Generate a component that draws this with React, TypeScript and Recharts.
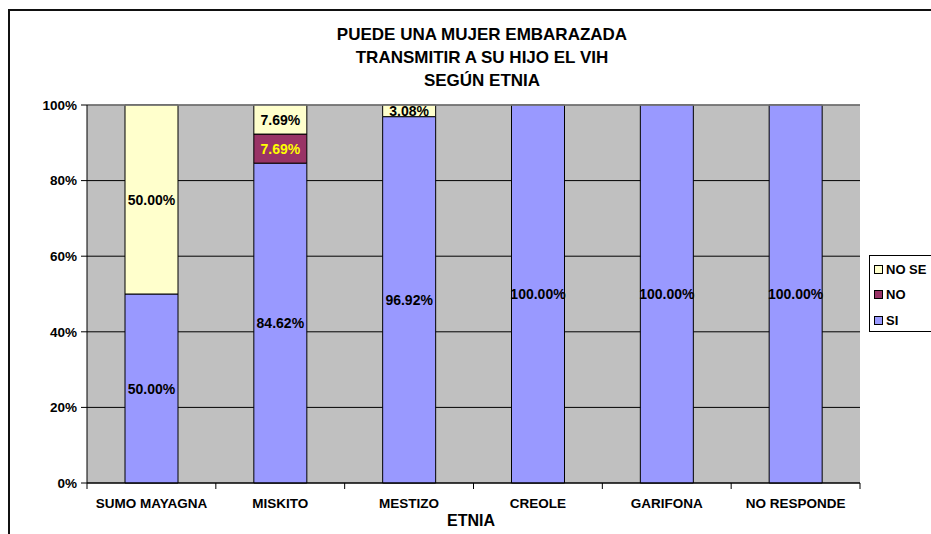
import { BarChart, Bar, XAxis, YAxis, CartesianGrid, LabelList, ReferenceLine } from "recharts";

const categories = ["SUMO MAYAGNA", "MISKITO", "MESTIZO", "CREOLE", "GARIFONA", "NO RESPONDE"];
const siValues = [50, 84.62, 96.92, 100, 100, 100];
const noValues = [0, 7.69, 0, 0, 0, 0];
const noSeValues = [50, 7.69, 3.08, 0, 0, 0];
const yTicks = [0, 20, 40, 60, 80, 100];

const FONT = "'Liberation Sans', Arial, sans-serif";
const W = 931;
const H = 534;
const M_LEFT = 27;
const Y_W = 60;
const M_RIGHT = 71;
const M_TOP = 105;
const X_H = 30;
const M_BOTTOM = 21;
const BAND = (W - M_LEFT - Y_W - M_RIGHT) / categories.length;

const data = categories.map((name, i) => ({
  name,
  si: siValues[i],
  no: noValues[i],
  noSe: noSeValues[i],
}));

// segment labels, hidden when the value is zero
const makeLabel = (color: string) => (props: any) => {
  const { x, y, width, height, value } = props;
  if (!value) return null;
  return (
    <text
      x={x + width / 2}
      y={y + height / 2}
      textAnchor="middle"
      dominantBaseline="central"
      fontFamily={FONT}
      fontWeight="bold"
      fontSize={14}
      fill={color}
    >
      {Number(value).toFixed(2)}%
    </text>
  );
};

// category label plus tick marks between categories (Excel style)
const CategoryTick = (props: any) => {
  const { x, y, payload, index } = props;
  const left = x - BAND / 2;
  return (
    <g>
      <line x1={left} y1={y} x2={left} y2={y + 6} stroke="#000" />
      {index === categories.length - 1 && (
        <line x1={x + BAND / 2} y1={y} x2={x + BAND / 2} y2={y + 6} stroke="#000" />
      )}
      <text
        x={x}
        y={y + 20}
        textAnchor="middle"
        dominantBaseline="central"
        fontFamily={FONT}
        fontWeight="bold"
        fontSize={13.5}
        fill="#000"
      >
        {payload.value}
      </text>
    </g>
  );
};

const legendItems = [
  { label: "NO SE", color: "#FFFFCC" },
  { label: "NO", color: "#993366" },
  { label: "SI", color: "#9999FF" },
];

export default function App() {
  return (
    <div
      style={{
        position: "absolute",
        top: 0,
        left: 0,
        width: W,
        height: H,
        overflow: "hidden",
        background: "#fff",
        fontFamily: FONT,
      }}
    >
      {/* outer chart border */}
      <div
        style={{
          position: "absolute",
          left: 8,
          top: 9,
          width: 1000,
          height: 600,
          borderLeft: "2px solid #111",
          borderTop: "2px solid #111",
        }}
      />
      <div
        style={{
          position: "absolute",
          left: 0,
          width: 964,
          top: 23,
          textAlign: "center",
          fontWeight: "bold",
          fontSize: 17,
          lineHeight: "23px",
          color: "#000",
        }}
      >
        PUEDE UNA MUJER EMBARAZADA
        <br />
        TRANSMITIR A SU HIJO EL VIH
        <br />
        SEGÚN ETNIA
      </div>

      <div style={{ position: "absolute", left: 0, top: 0 }}>
        <BarChart
          width={W}
          height={H}
          data={data}
          margin={{ top: M_TOP, right: M_RIGHT, left: M_LEFT, bottom: M_BOTTOM }}
          barSize={53}
        >
          <CartesianGrid vertical={false} fill="#C0C0C0" fillOpacity={1} stroke="#000" strokeWidth={1} />
          <XAxis
            dataKey="name"
            axisLine={{ stroke: "#000" }}
            tickLine={false}
            tickSize={0}
            tickMargin={0}
            interval={0}
            height={X_H}
            tick={<CategoryTick />}
          />
          <YAxis
            domain={[0, 100]}
            ticks={yTicks}
            width={Y_W}
            axisLine={{ stroke: "#000" }}
            tickLine={{ stroke: "#000" }}
            tickSize={6}
            tickMargin={4}
            tickFormatter={(v) => `${v}%`}
            tick={{ fontFamily: FONT, fontWeight: "bold", fontSize: 13.5, fill: "#000" }}
          />
          <YAxis
            yAxisId="r"
            orientation="right"
            domain={[0, 100]}
            width={0}
            tick={false}
            tickLine={false}
            axisLine={{ stroke: "#808080" }}
          />
          <ReferenceLine y={100} stroke="#808080" strokeWidth={1.5} />
          <Bar dataKey="si" stackId="a" fill="#9999FF" stroke="#000" strokeWidth={1} isAnimationActive={false}>
            <LabelList dataKey="si" content={makeLabel("#000")} />
          </Bar>
          <Bar dataKey="no" stackId="a" fill="#993366" stroke="#000" strokeWidth={1} isAnimationActive={false}>
            <LabelList dataKey="no" content={makeLabel("#FFFF00")} />
          </Bar>
          <Bar dataKey="noSe" stackId="a" fill="#FFFFCC" stroke="#000" strokeWidth={1} isAnimationActive={false}>
            <LabelList dataKey="noSe" content={makeLabel("#000")} />
          </Bar>
        </BarChart>
      </div>

      <div
        style={{
          position: "absolute",
          left: 0,
          width: 942,
          top: 512,
          textAlign: "center",
          fontWeight: "bold",
          fontSize: 16,
          lineHeight: "18px",
          color: "#000",
        }}
      >
        ETNIA
      </div>

      {/* legend */}
      <div
        style={{
          position: "absolute",
          left: 869,
          top: 255,
          width: 100,
          height: 75,
          border: "1px solid #000",
          background: "#fff",
        }}
      >
        {legendItems.map((item, i) => (
          <div
            key={item.label}
            style={{
              position: "absolute",
              left: 4,
              top: 6 + i * 25.5,
              height: 14,
              display: "flex",
              alignItems: "center",
              whiteSpace: "nowrap",
            }}
          >
            <span
              style={{
                display: "inline-block",
                width: 7,
                height: 7,
                background: item.color,
                border: "1px solid #000",
                marginRight: 3,
              }}
            />
            <span style={{ fontWeight: "bold", fontSize: 13, color: "#000" }}>{item.label}</span>
          </div>
        ))}
      </div>
    </div>
  );
}
